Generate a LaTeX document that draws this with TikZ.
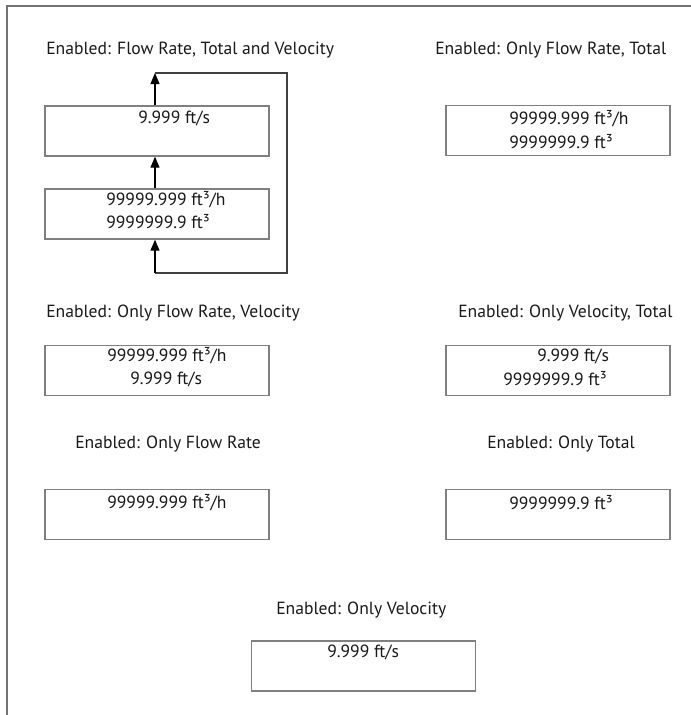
\documentclass[tikz,border=0pt]{standalone}
\usepackage{fontspec}
\setmainfont{PT Sans}
\usetikzlibrary{arrows.meta}
\begin{document}
\begin{tikzpicture}[x=0.75pt,y=-0.75pt,
  frame/.style={draw=black!55, line width=1.1pt},
  box/.style={draw=black!50, line width=1pt, rectangle, inner sep=0pt, minimum width=168pt, minimum height=37.5pt},
  txt/.style={anchor=west, inner sep=0pt, text=black!90, font=\fontsize{13.2}{15}\selectfont},
  arr/.style={draw=black, line width=0.8pt, -{Triangle[width=6.75pt,length=8.25pt]}},
  loopline/.style={draw=black!75, line width=0.8pt}]
\useasboundingbox (0,0) rectangle (691,715);
% frame
\draw[frame] (7,715) -- (7,6) -- (691,6);
% titles
\node[txt] (t1) at (46,50) {Enabled: Flow Rate, Total and Velocity};
\node[txt] (t2) at (435,50) {Enabled: Only Flow Rate, Total};
\node[txt] (t3) at (46,313) {Enabled: Only Flow Rate, Velocity};
\node[txt] (t4) at (458,313) {Enabled: Only Velocity, Total};
\node[txt] (t5) at (75,444) {Enabled: Only Flow Rate};
\node[txt] (t6) at (487,444) {Enabled: Only Total};
\node[txt] (t7) at (276,610) {Enabled: Only Velocity};
% boxes
\node[box] (bA) at (157,131) {};
\node[box] (bB) at (157,214) {};
\node[box] (b2) at (558,130.5) {};
\node[box] (b3) at (157,370.5) {};
\node[box] (b4) at (558,370.5) {};
\node[box] (b5) at (157,514.5) {};
\node[box] (b6) at (558,514.5) {};
\node[box] (b7) at (363.5,666) {};
% box texts
\node[txt] (xA) at (138,118) {9.999 ft/s};
\node[txt] (xB1) at (106,200) {99999.999 ft³/h};
\node[txt] (xB2) at (106,222) {9999999.9 ft³};
\node[txt] (x21) at (509,119) {99999.999 ft³/h};
\node[txt] (x22) at (509,142) {9999999.9 ft³};
\node[txt] (x31) at (107,356) {99999.999 ft³/h};
\node[txt] (x32) at (130,379) {9.999 ft/s};
\node[txt] (x41) at (537,356) {9.999 ft/s};
\node[txt] (x42) at (503,379) {9999999.9 ft³};
\node[txt] (x5) at (107,503) {99999.999 ft³/h};
\node[txt] (x6) at (509,503) {9999999.9 ft³};
\node[txt] (x7) at (327,652) {9.999 ft/s};
% loop connectors
\coordinate (tl) at (155,73);
\coordinate (tr) at (287,73);
\coordinate (br) at (287,273);
\coordinate (bl) at (155,273);
\draw[arr] (bA.north -| tl) -- (tl);
\draw[arr] (bB.north -| tl) -- (bA.south -| tl);
\draw[loopline] (tl) -- (tr) -- (br) -- (bl);
\draw[arr] (bl) -- (bB.south -| bl);
\end{tikzpicture}
\end{document}
